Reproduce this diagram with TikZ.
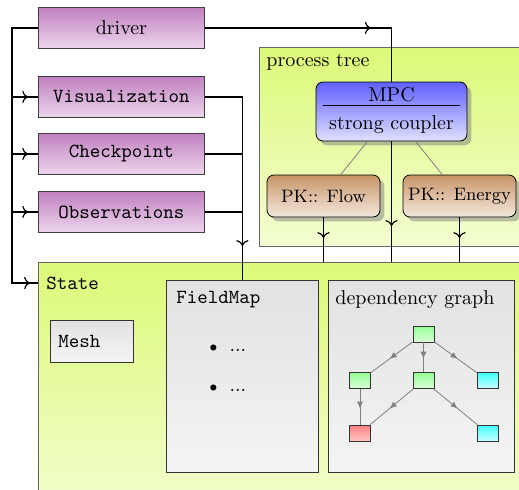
\documentclass[tikz,border=0pt]{standalone}
\usetikzlibrary{shadows,decorations.markings,arrows.meta}

\definecolor{purpTop}{RGB}{192,128,192}
\definecolor{purpBot}{RGB}{236,214,236}
\definecolor{blueTop}{RGB}{96,96,255}
\definecolor{blueBot}{RGB}{224,224,255}
\definecolor{brownTop}{RGB}{200,148,104}
\definecolor{brownBot}{RGB}{244,232,222}
\definecolor{limeTop}{RGB}{220,250,120}
\definecolor{limeBot}{RGB}{244,253,210}
\definecolor{grayTop}{RGB}{226,226,226}
\definecolor{grayBot}{RGB}{244,244,244}
\definecolor{edgeGray}{RGB}{128,128,128}

\begin{document}
\begin{tikzpicture}[x=0.5pt,y=-0.5pt,
  module/.style={draw=black!75, top color=purpTop, bottom color=purpBot,
    minimum width=83pt, minimum height=20.5pt, inner sep=0pt, anchor=north west},
  container/.style={draw=black!60, line width=0.7pt, top color=limeTop, bottom color=limeBot,
    inner sep=0pt, anchor=north west},
  graybox/.style={draw=black!80, top color=grayTop, bottom color=grayBot,
    inner sep=0pt, anchor=north west},
  mpcbox/.style={draw=black, rounded corners=3.5pt, top color=blueTop, bottom color=blueBot,
    minimum width=75.5pt, minimum height=29.5pt, inner sep=0pt, drop shadow},
  pkbox/.style={draw=black, rounded corners=3.5pt, top color=brownTop, bottom color=brownBot,
    minimum width=56.5pt, minimum height=21pt, inner sep=0pt, drop shadow},
  dgnode/.style={draw=black!80, minimum width=10.5pt, minimum height=8pt, inner sep=0pt},
  dggreen/.style={dgnode, top color=green!42, bottom color=green!14},
  dgcyan/.style={dgnode, top color=cyan!75, bottom color=cyan!22},
  dgred/.style={dgnode, top color=red!50, bottom color=red!22},
  conn/.style={semithick, black},
  tipat/.style={postaction={decorate, decoration={markings,
    mark=at position #1 with {\arrow{>}}}}},
  dgedge/.style={edgeGray, postaction={decorate, decoration={markings,
    mark=at position 0.55 with {\arrow{Latex[length=3.5pt,width=3pt]}}}}},
  lbl/.style={inner sep=0pt, anchor=west}
]
\clip (0,0) rectangle (519,489);

% containers
\node[container, minimum width=140pt, minimum height=99.5pt] (ptree) at (259,47) {};
\node[lbl] (ptlbl) at (266,62) {process tree};
\node[container, minimum width=252pt, minimum height=130pt] (state) at (38,262) {};
\node[anchor=west, inner sep=4pt] (statelbl) at (38,283) {\ttfamily State};

% contents of the state
\node[graybox, minimum width=41.5pt, minimum height=21pt] (mesh) at (50,320) {};
\node[lbl] (meshlbl) at (58,341) {\ttfamily Mesh};
\node[graybox, minimum width=76pt, minimum height=96pt] (fm) at (166,280) {};
\node[lbl] (fmlbl) at (176,300) {\ttfamily FieldMap};
\node[lbl] (item1) at (209,348) {{\scriptsize$\bullet$}\hspace{6pt}...};
\node[lbl] (item2) at (209,388) {{\scriptsize$\bullet$}\hspace{6pt}...};
\node[graybox, minimum width=93pt, minimum height=96pt] (dg) at (328,280) {};
\node[lbl] (dglbl) at (335,300) {dependency graph};

% dependency graph
\node[dggreen] (g1) at (423.5,334) {};
\node[dggreen] (g2) at (360,380.5) {};
\node[dggreen] (g3) at (423.5,380.5) {};
\node[dgcyan]  (g4) at (487.5,380.5) {};
\node[dgred]   (g5) at (360,433) {};
\node[dgcyan]  (g6) at (487.5,433) {};
\draw[dgedge] (g1) -- (g2);
\draw[dgedge] (g1) -- (g3);
\draw[dgedge] (g1) -- (g4);
\draw[dgedge] (g2) -- (g5);
\draw[dgedge] (g3) -- (g5);
\draw[dgedge] (g3) -- (g6);

% modules
\node[module] (driver) at (38,7) {driver};
\node[module] (visu) at (38,76) {\ttfamily Visualization};
\node[module] (chk) at (38,133) {\ttfamily Checkpoint};
\node[module] (obs) at (38,191) {\ttfamily Observations};

% process tree: coupler with a title rule, and its two process kernels
\node[mpcbox] (mpc) at (391.5,111.5) {};
\node[inner sep=0pt, anchor=base] (mpctitle) at (391.5,101.8) {MPC};
\node[inner sep=0pt, anchor=base] (mpcsub) at (391.5,129.3) {strong coupler};
\draw ([xshift=3.5pt,yshift=-12pt]mpc.north west) -- ([xshift=-3.5pt,yshift=-12pt]mpc.north east);
\node[pkbox] (pkf) at (323.5,196) {\small PK:: Flow};
\node[pkbox] (pke) at (459.5,196) {\small PK:: Energy};
\draw[edgeGray, thin] (mpc) -- (pkf);
\draw[edgeGray, thin] (mpc) -- (pke);

% connectors
\coordinate (lx) at (12,27.5);
\draw[conn, tipat=-4pt] (driver.west) -- (driver.west -| lx) |- (statelbl.west);
\draw[conn, tipat=0.62] (lx |- visu.west) -- (visu.west);
\draw[conn, tipat=0.62] (lx |- chk.west) -- (chk.west);
\draw[conn, tipat=0.62] (lx |- obs.west) -- (obs.west);
\draw[conn, tipat=83pt] (driver.east) -| (mpc.north);
\draw[conn, tipat=-18pt] (mpc.south) -- (mpc.south |- state.north);
\draw[conn, tipat=-12pt] (pkf.south) -- (pkf.south |- state.north);
\draw[conn, tipat=-12pt] (pke.south) -- (pke.south |- state.north);
\draw[conn, tipat=-17pt] (visu.east) -| (fm.north);
\draw[conn] (chk.east) -| (fm.north);
\draw[conn] (obs.east) -| (fm.north);
\end{tikzpicture}
\end{document}
